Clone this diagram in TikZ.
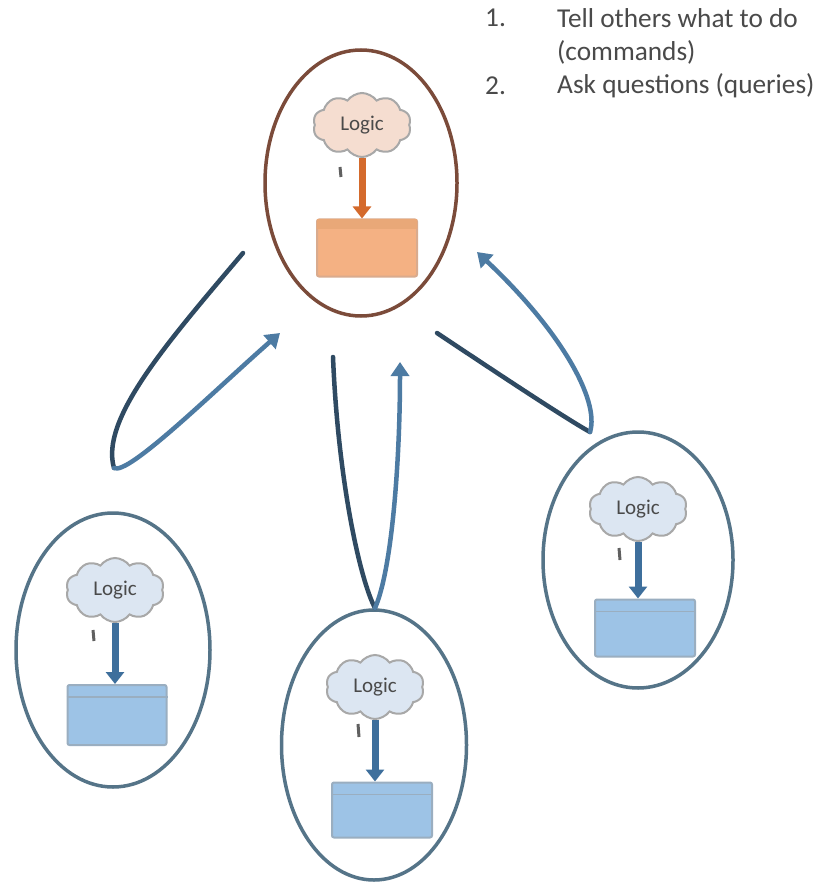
\documentclass[tikz,border=0pt]{standalone}
\usepackage{fontspec}
\setmainfont{Carlito}
\usetikzlibrary{shapes.geometric,shapes.symbols,arrows.meta}
\definecolor{ringbrown}{HTML}{7B4B3A}
\definecolor{ringblue}{HTML}{557488}
\definecolor{loopdark}{HTML}{2F4A62}
\definecolor{looplight}{HTML}{4D7BA3}
\definecolor{cloudline}{HTML}{A8A8A8}
\definecolor{cloudblue}{HTML}{DCE6F2}
\definecolor{cloudpeach}{HTML}{F5DDD0}
\definecolor{boxblue}{HTML}{9DC3E6}
\definecolor{boxbluetop}{HTML}{A9C4DA}
\definecolor{boxblueedge}{HTML}{9AAEC0}
\definecolor{boxorange}{HTML}{F4B183}
\definecolor{boxorangetop}{HTML}{E9A878}
\definecolor{boxorangeedge}{HTML}{D9AB8E}
\definecolor{arrblue}{HTML}{3E6F9C}
\definecolor{arrorange}{HTML}{D46A2C}
\definecolor{txt}{HTML}{4A4A4A}
\definecolor{tailgrey}{HTML}{606060}
\begin{document}
\begin{tikzpicture}[x=1pt,y=-1pt,
  ring/.style={draw, ellipse, line width=3.5pt, inner sep=0pt},
  cloudnode/.style={cloud, cloud puffs=10, cloud puff arc=110, aspect=1.6, draw=cloudline, line width=2pt, minimum width=98pt, minimum height=64pt, inner sep=0pt, font=\fontsize{21}{23}\selectfont, text=txt},
  dbox/.style={draw, rounded corners=2pt, line width=2pt, minimum width=100pt, minimum height=58pt, inner sep=0pt},
  inarrow/.style={line width=7pt, -{Triangle[length=12pt,width=18pt]}},
  loopline/.style={line width=4.5pt, line cap=round},
  looptip/.style={-{Triangle[length=14pt,width=18pt]}},
  listtext/.style={anchor=west, text=txt, font=\fontsize{27.3}{32}\selectfont, inner sep=0pt},
  tail/.style={draw=tailgrey, line width=3pt}
]
\fill[white] (0,0) rectangle (819,885);
\useasboundingbox (0,0) rectangle (819,885);

% list text
\node[listtext] (n1) at (485,18) {1.};
\node[listtext] (t1) at (557,18) {Tell others what to do};
\node[listtext] (t1b) at (557,52) {(commands)};
\node[listtext] (n2) at (485,86) {2.};
\node[listtext] (t2) at (557,86) {Ask questions (queries)};

% top service (orange)
\node[ring, draw=ringbrown, minimum width=192pt, minimum height=266pt] (rt) at (361,183) {};
\node[cloudnode, fill=cloudpeach] (ct) at (362,125) {Logic};
\node[dbox, draw=boxorangeedge, fill=boxorange, minimum width=100pt, minimum height=57pt] (bt) at (367,248) {};
\fill[boxorangetop] ([xshift=1pt,yshift=-1pt]bt.north west) rectangle ([xshift=-1pt,yshift=-11pt]bt.north east);
\draw[inarrow, arrorange] (ct.south) -- (ct.south |- bt.north);
\draw[tail] (340,167) -- (341,177);

% left service
\node[ring, draw=ringblue, minimum width=194pt, minimum height=274pt] (rl) at (113,650) {};
\node[cloudnode, fill=cloudblue] (cl) at (115,590) {Logic};
\node[dbox, draw=boxblueedge, fill=boxblue, minimum width=99pt, minimum height=60pt] (bl) at (117,715) {};
\draw[boxblueedge, line width=1.5pt] ([yshift=-13pt]bl.north west) -- ([yshift=-13pt]bl.north east);
\draw[inarrow, arrblue] (cl.south) -- (cl.south |- bl.north);
\draw[tail] (93,630) -- (94,641);

% middle service
\node[ring, draw=ringblue, minimum width=185pt, minimum height=270pt] (rm) at (374,745) {};
\node[cloudnode, fill=cloudblue] (cm) at (375,687) {Logic};
\node[dbox, draw=boxblueedge, fill=boxblue, minimum width=100pt, minimum height=55pt] (bm) at (382,810) {};
\draw[boxblueedge, line width=1.5pt] ([yshift=-13pt]bm.north west) -- ([yshift=-13pt]bm.north east);
\draw[inarrow, arrblue] (cm.south) -- (cm.south |- bm.north);
\draw[tail] (358,724) -- (359,737);

% right service
\node[ring, draw=ringblue, minimum width=190pt, minimum height=256pt] (rr) at (638,560) {};
\node[cloudnode, fill=cloudblue] (cr) at (638,509) {Logic};
\node[dbox, draw=boxblueedge, fill=boxblue, minimum width=100pt, minimum height=57pt] (br) at (645,628) {};
\draw[boxblueedge, line width=1.5pt] ([yshift=-13pt]br.north west) -- ([yshift=-13pt]br.north east);
\draw[inarrow, arrblue] (cr.south) -- (cr.south |- br.north);
\draw[tail] (619,548) -- (620,560);

% loops
\coordinate (la) at (243,253);
\coordinate (lb) at (114,468);
\coordinate (lc) at (280,333);
\draw[loopline, loopdark] (la) .. controls (165,345) and (100,420) .. (lb);
\draw[loopline, looplight, looptip] (lb) .. controls (128,476) and (215,390) .. (lc);

\coordinate (ma) at (333,357);
\coordinate (mb) at (375,608);
\coordinate (mc) at (400,362);
\draw[loopline, loopdark] (ma) .. controls (338,480) and (360,580) .. (mb);
\draw[loopline, looplight, looptip] (mb) .. controls (392,570) and (400,460) .. (mc);

\coordinate (ra) at (437,333);
\coordinate (rb) at (590,432);
\coordinate (rc) at (477,252);
\draw[loopline, loopdark] (ra) .. controls (500,375) and (565,418) .. (rb);
\draw[loopline, looplight, looptip] (rb) .. controls (600,400) and (560,330) .. (rc);
\end{tikzpicture}
\end{document}
